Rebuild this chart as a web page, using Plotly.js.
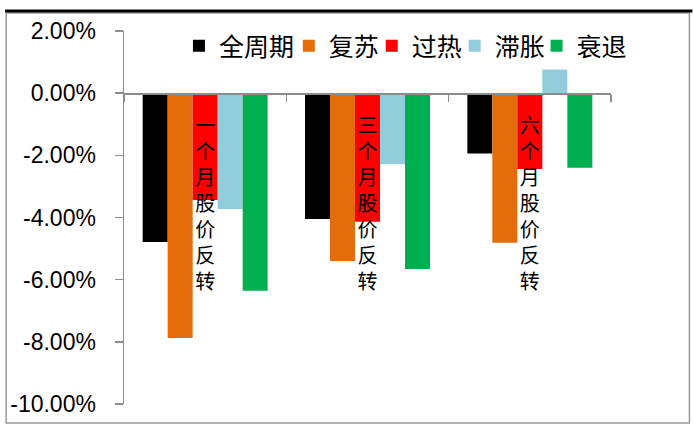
<!DOCTYPE html>
<html>
<head>
<meta charset="utf-8">
<script src="https://cdn.plot.ly/plotly-3.0.1.min.js"></script>
<style>html,body{margin:0;padding:0;background:#fff;}#chart{width:693px;height:425px;}</style>
</head>
<body>
<div id="chart"></div>
<script>
const categories = ['一个月股价反转', '三个月股价反转', '六个月股价反转'];
const seriesNames = ['全周期', '复苏', '过热', '滞胀', '衰退'];
const seriesColors = ['#000000', '#E46C0A', '#FF0000', '#92CDDC', '#00B050'];
const allCycle = [-0.0479, -0.0405, -0.0194];
const recovery = [-0.0788, -0.0540, -0.0481];
const overheat = [-0.0344, -0.0414, -0.0244];
const stagflation = [-0.0373, -0.0229, 0.0076];
const recession = [-0.0636, -0.0566, -0.0240];
const yTickVals = [0.02, 0, -0.02, -0.04, -0.06, -0.08, -0.10];
const yTickText = ['2.00%', '0.00%', '-2.00%', '-4.00%', '-6.00%', '-8.00%', '-10.00%'];

const seriesValues = [allCycle, recovery, overheat, stagflation, recession];
const catLabels = categories.map(c => c.split('').join('<br>'));

const legendIds = ['legend', 'legend2', 'legend3', 'legend4', 'legend5'];
const traces = seriesValues.map((vals, i) => ({
  type: 'bar',
  name: seriesNames[i],
  legend: legendIds[i],
  x: catLabels,
  y: vals,
  marker: {color: seriesColors[i], line: {width: 0}},
  hoverinfo: 'skip'
}));

const L = 124, R = 611.5, T = 31, B = 404;
const W = R - L, H = B - T;
const px = v => (v - L) / W;
const py = v => 1 - (v - T) / H;

// legend text start positions (pixels) as seen in the reference
const legendTextStart = [217, 327, 410, 493, 575];

const layout = {
  width: 693, height: 425,
  margin: {l: L, r: 693 - R, t: T, b: 425 - B, pad: 0},
  paper_bgcolor: '#ffffff', plot_bgcolor: '#ffffff',
  barmode: 'group', bargap: 0.23, bargroupgap: 0,
  showlegend: true,
  xaxis: {
    type: 'category', anchor: 'free', position: 10 / 12,
    showline: true, linecolor: '#8c8c8c', linewidth: 1.5,
    ticks: 'outside', tickson: 'boundaries', ticklen: 7, tickcolor: '#8c8c8c', tickwidth: 1.5,
    ticklabelstandoff: 14,
    showgrid: false, zeroline: false, fixedrange: true,
    tickfont: {family: '"Liberation Sans", "Noto Sans CJK SC", sans-serif', size: 20, color: '#000'}
  },
  yaxis: {
    range: [-0.10, 0.02], tickvals: yTickVals, ticktext: yTickText,
    showline: true, linecolor: '#8c8c8c', linewidth: 1.5,
    ticks: 'outside', ticklen: 8, tickcolor: '#8c8c8c', tickwidth: 1.5,
    ticklabelstandoff: 14,
    showgrid: false, zeroline: false,
    tickfont: {family: '"Liberation Sans", Arial, sans-serif', size: 23, color: '#000'}
  },
  shapes: [
    {type: 'rect', xref: 'paper', yref: 'paper', x0: px(6), x1: px(690), y0: py(423), y1: py(13),
     line: {color: '#9a9a9a', width: 1.5}, fillcolor: 'rgba(0,0,0,0)', layer: 'below'},
    {type: 'line', xref: 'paper', yref: 'paper', x0: px(5), x1: px(693), y0: py(11), y1: py(11),
     line: {color: '#000000', width: 3}}
  ]
};

legendIds.forEach((id, i) => {
  layout[id] = {
    orientation: 'h', x: px(legendTextStart[i] - 38), y: py(46), xanchor: 'left', yanchor: 'middle',
    bgcolor: 'rgba(0,0,0,0)', borderwidth: 0,
    font: {family: '"Noto Sans CJK SC", sans-serif', size: 25, color: '#000'}
  };
});

Plotly.newPlot('chart', traces, layout, {displayModeBar: false, staticPlot: true});
</script>
</body>
</html>
